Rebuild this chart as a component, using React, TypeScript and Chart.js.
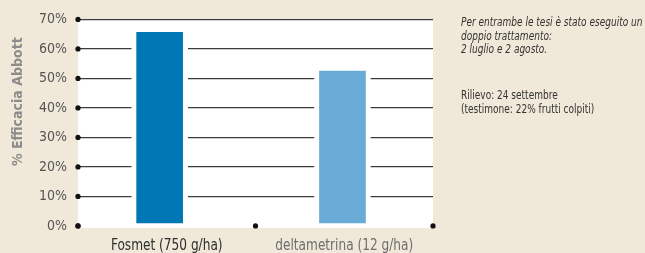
import React, { useEffect, useRef } from "react";
import { Chart, registerables } from "chart.js";

Chart.register(...registerables);

const categories = ["Fosmet (750 g/ha)", "deltametrina (12 g/ha)"];
const categoryPositions = [0.5, 1.5];
const barPositions = [0.46, 1.49];
const efficacy = [67.3, 54.2];
const barColors = ["#0077b5", "#6aaad6"];
const labelColors = ["#2e2e2e", "#6f6f6f"];
const yTicks = [0, 10, 20, 30, 40, 50, 60, 70];
const boundaries = [0, 1, 2];
const yTitle = "% Efficacia Abbott";
const noteLines1 = ["Per entrambe le tesi è stato eseguito un", "doppio trattamento:", "2 luglio e 2 agosto."];
const noteLines2 = ["Rilievo: 24 settembre", "(testimone: 22% frutti colpiti)"];

const FONT = "'Liberation Sans Narrow', 'DejaVu Sans Condensed', 'Arial Narrow', sans-serif";
const BG = "#f0e8d8";

const decorPlugin = {
  id: "decor",
  beforeDraw(chart: any) {
    const { ctx, chartArea } = chart;
    ctx.save();
    ctx.fillStyle = "#ffffff";
    ctx.fillRect(chartArea.left, chartArea.top, chartArea.right - chartArea.left, chartArea.bottom - chartArea.top);
    ctx.restore();
  },
  afterDraw(chart: any) {
    const { ctx, chartArea, scales } = chart;
    const y = scales.y;
    const x = scales.x;
    ctx.save();
    ctx.fillStyle = "#111111";
    yTicks.forEach((v) => {
      ctx.beginPath();
      ctx.arc(chartArea.left, y.getPixelForValue(v), 2.6, 0, Math.PI * 2);
      ctx.fill();
    });
    boundaries.forEach((b) => {
      ctx.beginPath();
      ctx.arc(x.getPixelForValue(b), y.getPixelForValue(0), 2.6, 0, Math.PI * 2);
      ctx.fill();
    });
    ctx.restore();

    categories.forEach((label, i) => {
      ctx.save();
      ctx.translate(x.getPixelForValue(categoryPositions[i]), chartArea.bottom + 22);
      ctx.scale(0.9, 1);
      ctx.font = "15px " + FONT;
      ctx.fillStyle = labelColors[i];
      ctx.textAlign = "center";
      ctx.textBaseline = "alphabetic";
      ctx.fillText(label, 0, 0);
      ctx.restore();
    });

    ctx.save();
    ctx.translate(18, (y.getPixelForValue(70) + y.getPixelForValue(0)) / 2 - 21);
    ctx.rotate(-Math.PI / 2);
    ctx.font = "bold 14px " + FONT;
    ctx.fillStyle = "#8c8c8c";
    ctx.textAlign = "center";
    ctx.textBaseline = "middle";
    ctx.fillText(yTitle, 0, 0);
    ctx.restore();
  },
};

export default function App() {
  const ref = useRef<HTMLCanvasElement>(null);
  useEffect(() => {
    if (!ref.current) return;
    const chart = new Chart(ref.current, {
      type: "bar",
      data: {
        datasets: [
          {
            data: efficacy.map((v, i) => ({ x: barPositions[i], y: v })),
            backgroundColor: barColors,
            borderColor: "#ffffff",
            borderWidth: 5,
            borderSkipped: false,
            barThickness: 56,
            base: -0.7,
          } as any,
        ],
      },
      options: {
        animation: false,
        responsive: false,
        maintainAspectRatio: false,
        layout: { padding: { top: 19, right: 212, left: 0, bottom: 0 } },
        plugins: { legend: { display: false }, tooltip: { enabled: false } },
        scales: {
          x: {
            type: "linear",
            min: 0,
            max: 2,
            offset: false,
            afterBuildTicks: (s: any) => {
              s.ticks = categoryPositions.map((v) => ({ value: v }));
            },
            afterFit: (s: any) => {
              s.height = 25;
            },
            grid: { display: false, drawTicks: false, offset: false },
            border: { display: false },
            ticks: { display: false },
          },
          y: {
            min: -0.7,
            max: 70,
            afterBuildTicks: (s: any) => {
              s.ticks = yTicks.map((v) => ({ value: v }));
            },
            afterFit: (s: any) => {
              s.width = 78;
            },
            grid: {
              drawTicks: false,
              color: (c: any) => (c.tick && c.tick.value === 0 ? "rgba(0,0,0,0)" : "#3c3c3c"),
              lineWidth: 1.3,
            },
            border: { display: false },
            ticks: {
              padding: 11,
              font: { family: FONT, size: 14 },
              color: "#555555",
              callback: (v: any) => v + "%",
            },
          },
        },
      },
      plugins: [decorPlugin],
    });
    return () => chart.destroy();
  }, []);

  const noteStyle: React.CSSProperties = {
    position: "absolute",
    left: 461,
    fontFamily: FONT,
    fontSize: 13,
    lineHeight: "13.5px",
    color: "#333333",
    whiteSpace: "nowrap",
    margin: 0,
    transform: "scaleX(0.77)",
    transformOrigin: "left top",
  };

  return (
    <div style={{ position: "fixed", left: 0, top: 0, width: 645, height: 253, background: BG, overflow: "hidden" }}>
      <canvas ref={ref} width={645} height={253} style={{ position: "absolute", left: 0, top: 0, width: 645, height: 253 }} />
      <div style={{ ...noteStyle, top: 15, fontStyle: "italic" }}>
        {noteLines1.map((l) => (
          <div key={l}>{l}</div>
        ))}
      </div>
      <div style={{ ...noteStyle, top: 88 }}>
        {noteLines2.map((l) => (
          <div key={l}>{l}</div>
        ))}
      </div>
    </div>
  );
}
